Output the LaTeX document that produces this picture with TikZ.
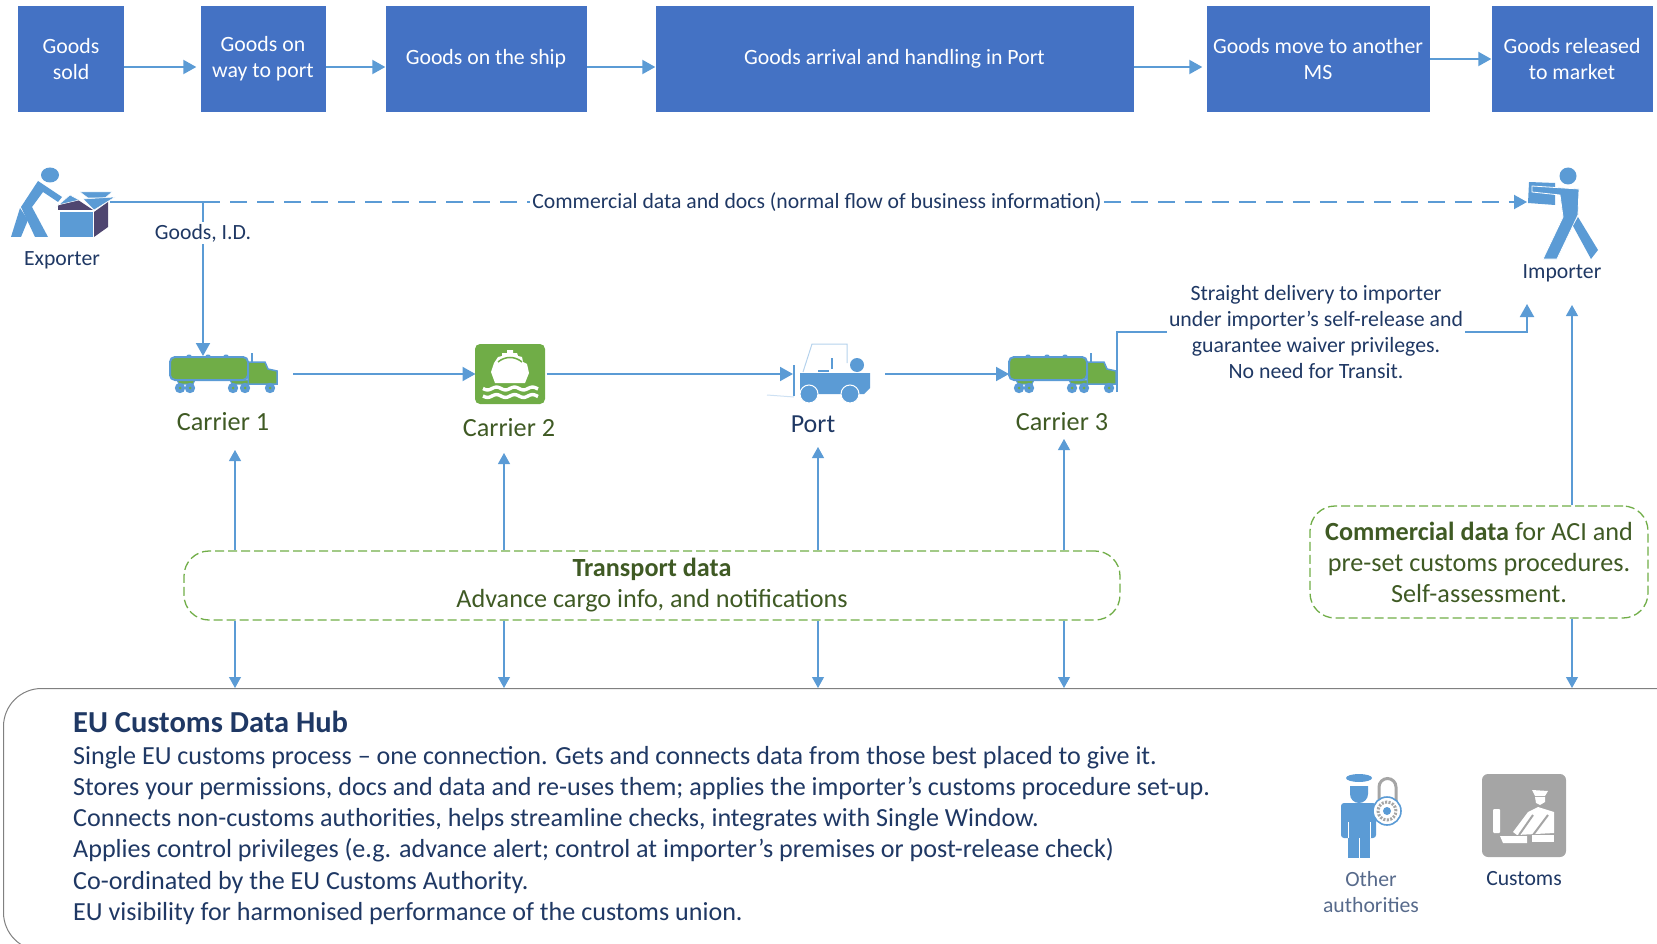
\documentclass[tikz,border=0pt]{standalone}
\usepackage{fontspec}
\setmainfont{Carlito}
\usetikzlibrary{arrows.meta,calc,positioning}
\definecolor{flowblue}{HTML}{5B9BD5}
\definecolor{stepblue}{HTML}{4472C4}
\definecolor{navytext}{HTML}{1F3864}
\definecolor{olivetext}{HTML}{3F5A24}
\definecolor{leaf}{HTML}{70AD47}
\definecolor{crate}{HTML}{4F4670}
\definecolor{stone}{HTML}{A5A5A5}
\tikzstyle{stagebox}=[fill=stepblue,text=white,align=center,minimum height=106pt,inner sep=1pt,font=\fontsize{21.8}{26}\selectfont]
\tikzstyle{flow}=[draw=flowblue,line width=2pt,-{Triangle[length=13pt,width=14pt]}]
\tikzstyle{thinflow}=[draw=flowblue,line width=1.1pt,-{Triangle[length=11pt,width=12pt]}]
\tikzstyle{navylabel}=[text=navytext,align=center,inner sep=2pt,font=\fontsize{21.7}{25.7}\selectfont]
\tikzstyle{olivelabel}=[text=olivetext,align=center,inner sep=2pt,font=\fontsize{26.2}{31}\selectfont]
\tikzstyle{databox}=[draw=leaf,dashed,dash pattern=on 9pt off 4pt,line width=1.3pt,rounded corners=25pt,text=olivetext,align=center,inner sep=2pt,font=\fontsize{26.2}{31}\selectfont]
\tikzstyle{iconbox}=[inner sep=0pt,outer sep=0pt]
\newcommand{\drawflows}[2][flow]{
	\foreach \a/\b in {#2}{
		\draw[#1] (\a) -- (\b);
	}
}
\tikzset{tanker/.pic={
	\draw[flowblue,line width=2pt] (28,-21) -- (28,5);
	\draw[flowblue,fill=leaf,line width=1.5pt] (24,-12) -- (41,-12) -- (44,-5) -- (53,-3) -- (53,10) -- (24,10) -- cycle;
	\draw[flowblue,fill=leaf,line width=1pt] (-47,6) -- (-29,6) -- (-31,10) -- (-45,10) -- cycle;
	\draw[flowblue,fill=leaf,line width=1pt] (6,6) -- (24,6) -- (24,10) -- (8,10) -- cycle;
	\foreach \w in {-44,-34,9,21,46}{
		\fill[flowblue] (\w,14) circle (5.2pt);
		\fill[leaf] (\w,14) circle (1.5pt);
	}
	\foreach \w in {-35,-16,2}{
		\fill[flowblue] (\w,-18) ellipse (2.5pt and 1.5pt);
	}
	\draw[flowblue,fill=leaf,line width=2pt,rounded corners=5pt] (-54,-17) rectangle (24,6);
}}
\begin{document}
\begin{tikzpicture}[x=1pt,y=-1pt]
	\path[use as bounding box,clip] (0,0) rectangle (1657,944);
	\node[stagebox,minimum width=106pt] (sold) at (71,59) {Goods\\sold};
	\node[stagebox,minimum width=125pt] (wayport) at (263,59) {Goods on\\way to port};
	\node[stagebox,minimum width=201pt] (ship) at (486,59) {Goods on the ship};
	\node[stagebox,minimum width=478pt] (arrival) at (894.5,59) {Goods arrival and handling in Port};
	\node[stagebox,minimum width=223pt] (move) at (1318,59) {Goods move to another\\MS};
	\node[stagebox,minimum width=161pt] (released) at (1572,59) {Goods released\\to market};
	\drawflows[flow,shorten >=4pt,transform canvas={yshift=-8pt}]{sold.east/wayport.west,arrival.east/move.west}
	\drawflows[flow,transform canvas={yshift=-8pt}]{wayport.east/ship.west,ship.east/arrival.west}
	\drawflows{move.east/released.west}

	\coordinate (goodsout) at (110,202);
	\coordinate (goodsturn) at (203,202);
	\coordinate (importerin) at (1527,202);
	\coordinate (deliveryin) at (1527,304);
	\coordinate (upA) at (235,450);
	\coordinate (upB) at (504,453);
	\coordinate (upC) at (818,447);
	\coordinate (upD) at (1064,439);
	\coordinate (upE) at (1572,305);

	\node[iconbox,minimum width=108pt,minimum height=36pt] (carrierA) at (224,374) {};
	\node[iconbox,minimum width=71pt,minimum height=61pt] (carrierB) at (511,374) {};
	\node[iconbox,minimum width=77pt,minimum height=60pt] (port) at (831.5,374) {};
	\node[iconbox,minimum width=108pt,minimum height=36pt] (carrierC) at (1063,374) {};

	\node[navylabel] (exporter) at (62,260) {Exporter};
	\node[navylabel] (importer) at (1562,273) {Importer};
	\node[olivelabel] (labelA) at (223,422) {Carrier 1};
	\node[olivelabel] (labelB) at (509,428) {Carrier 2};
	\node[navylabel,font=\fontsize{26}{31}\selectfont] (labelC) at (813,424.5) {Port};
	\node[olivelabel] (labelD) at (1062,422) {Carrier 3};

	\draw[flowblue,line width=2pt] (goodsout) -- (goodsturn);
	\draw[flow] (goodsturn) -- (goodsturn |- carrierA.north);
	\node[navylabel,fill=white] (goodsid) at (203,233) {Goods, I.D.};
	\node[navylabel] (commercial) at (817,202) {Commercial data and docs (normal flow of business information)};
	\draw[draw=flowblue,line width=2pt,dash pattern=on 17pt off 10pt] (goodsturn) -- (commercial.west);
	\draw[flow,dash pattern=on 17pt off 10pt] (commercial.east) -- (importerin);

	\draw[flow,shorten <=15pt] (carrierA.east) -- (carrierB.west);
	\draw[flow] (carrierB.east) -- (port.west);
	\draw[flow,shorten <=15pt] (port.east) -- (carrierC.west);
	\node[navylabel,font=\fontsize{21.8}{25.7}\selectfont] (delivery) at (1316,332) {Straight delivery to importer\\under importer’s self-release and\\guarantee waiver privileges.\\No need for Transit.};
	\draw[flowblue,line width=2pt] (carrierC.south east) |- (delivery.west);
	\draw[flow] (delivery.east) -| (deliveryin);

	\node[databox,minimum width=936pt,minimum height=69pt] (transport) at (652,585.5) {\textbf{Transport data}\\Advance cargo info, and notifications};
	\node[databox,minimum width=338pt,minimum height=112pt] (aci) at (1479,562) {\textbf{Commercial data} for ACI and\\pre-set customs procedures.\\Self-assessment.};
	\node[draw=black!50,line width=1pt,rounded corners=38pt,minimum width=1760pt,minimum height=262pt,anchor=north west,inner sep=0pt] (hub) at (3,688) {};

	\foreach \u in {upA,upB,upC,upD}{
		\draw[thinflow] (\u |- transport.north) -- (\u);
		\draw[thinflow] (\u |- transport.south) -- (\u |- hub.north);
	}
	\draw[thinflow] (upE |- aci.north) -- (upE);
	\draw[thinflow] (upE |- aci.south) -- (upE |- hub.north);

	\node[text=navytext,anchor=west,inner sep=0pt,font=\bfseries\fontsize{30.5}{36}\selectfont] (hubtitle) at (73,722) {EU Customs Data Hub};
	\node[text=navytext,anchor=north west,align=left,inner sep=0pt,font=\fontsize{26.1}{31.2}\selectfont] (hubtext) at (73,746) {Single EU customs process – one connection. Gets and connects data from those best placed to give it.\\Stores your permissions, docs and data and re-uses them; applies the importer’s customs procedure set-up.\\Connects non-customs authorities, helps streamline checks, integrates with Single Window.\\Applies control privileges (e.g. advance alert; control at importer’s premises or post-release check)\\Co-ordinated by the EU Customs Authority.\\EU visibility for harmonised performance of the customs union.};
	\node[navylabel,text=navytext!75] (others) at (1371,892) {Other\\authorities};
	\node[navylabel] (customs) at (1524,879) {Customs};

	\pic at (carrierA) {tanker};
	\pic at (carrierC) {tanker};

	\fill[flowblue] (50,175) ellipse (9pt and 7.5pt);
	\fill[flowblue] (38,181) -- (62,197) -- (58,202) -- (43,192) -- (32,207) -- (48,237) -- (35,237) -- (21,207) -- cycle;
	\fill[flowblue] (20,208) -- (28,220) -- (21,237) -- (11,237) -- cycle;
	\fill[crate] (58,205) -- (75,198) -- (93,210) -- (58,210) -- cycle;
	\fill[flowblue] (60,212) rectangle (93,237);
	\fill[crate] (94,212) -- (108,202) -- (108,227) -- (94,237) -- cycle;
	\draw[white,line width=0.5pt,fill=flowblue] (80,192) -- (112,192) -- (105,198) -- (88,198) -- cycle;
	\draw[white,line width=0.5pt,fill=flowblue] (55,208) -- (70,195) -- (79,200) -- (58,205) -- cycle;
	\draw[white,line width=0.5pt,fill=flowblue] (83,199) -- (115,197) -- (94,210) -- cycle;

	\fill[flowblue] (1568,176) circle (8.5pt);
	\fill[flowblue] (1529,182) -- (1555,183) -- (1555,205) -- (1528,203) -- cycle;
	\draw[white,line width=0.8pt,fill=flowblue] (1532,186) -- (1579,189) -- (1578,215) -- (1557,259) -- (1543,259) -- (1563,217) -- (1560,195) -- (1532,192) -- cycle;
	\fill[flowblue] (1578,217) -- (1598,250) -- (1591,259) -- (1573,226) -- cycle;

	\fill[leaf,rounded corners=5pt] (475,344) rectangle (545,404);
	\fill[white] (507,350) -- (513,350) -- (513,353) -- (517,353) -- (518,356) -- (522,357) -- (523,362) -- (527,364) -- (529,373) -- (525,383) -- (495,383) -- (491,372) -- (494,363) -- (498,357) -- (502,356) -- (502,353) -- (507,353) -- cycle;
	\draw[leaf,line width=1.5pt] (498,362) .. controls (505,356) and (515,356) .. (522,362);
	\draw[white,line width=3.4pt] plot[domain=0:55,samples=50] ({483+\x},{388.5+1.4*sin(\x*20)});
	\draw[white,line width=3.4pt] plot[domain=0:55,samples=50] ({483+\x},{396+1.4*sin(\x*20)});

	\draw[flowblue!30,line width=1pt] (767,395) -- (794,397);
	\draw[flowblue,line width=1.3pt] (794,365) -- (794,396);
	\draw[flowblue!45,line width=1pt] (803,372) -- (812,344) -- (847,344) -- (847,363);
	\draw[flowblue,line width=1.2pt] (818,371) -- (829,371) (832,358) -- (832,369);
	\fill[flowblue] (857,365) circle (7pt);
	\fill[flowblue] (800,373) -- (870,373) -- (870,388) -- (864,394) -- (800,394) -- cycle;
	\foreach \w in {809,850}{
		\draw[white,line width=1pt,fill=flowblue] (\w,394) circle (9pt);
	}

	\fill[flowblue] (1359,778) ellipse (13pt and 4pt);
	\fill[flowblue] (1350,786) -- (1350,794) arc (180:360:9pt) -- (1368,786) -- cycle;
	\fill[flowblue,rounded corners=3pt] (1341,838) -- (1341,803) -- (1376,803) -- (1376,838) -- cycle;
	\fill[flowblue] (1348,838) rectangle (1370,858);
	\draw[white,line width=1pt] (1348,822) -- (1348,838) (1370,822) -- (1370,838) (1359,838) -- (1359,858);
	\draw[stone,line width=3pt] (1379,805) -- (1379,787) arc (180:0:8.5pt) -- (1396,805);
	\draw[flowblue,fill=white,line width=1.6pt] (1387,811) circle (14pt);
	\draw[stone,line width=3pt,dash pattern=on 2pt off 1.5pt] (1387,811) circle (9pt);
	\fill[flowblue] (1387,811) circle (4pt);

	\fill[stone,rounded corners=6pt] (1482,774) rectangle (1566,857);
	\fill[white] (1532,790) -- (1548,791) -- (1545,796) -- (1535,796) -- cycle;
	\fill[white] (1535,797) -- (1545,797) -- (1545,802) -- (1540,805) -- (1536,803) -- cycle;
	\fill[white] (1513,832) -- (1528,812) -- (1538,807) -- (1554,812) -- (1554,833) -- (1517,835) -- cycle;
	\draw[stone,line width=2pt] (1519,835) -- (1533,815) (1533,835) -- (1548,815);
	\fill[white,rounded corners=1pt] (1493,809) rectangle (1500,833);
	\fill[white] (1500,836) -- (1527,836) -- (1527,843) -- (1503,843) -- cycle;
	\fill[white] (1532,835) rectangle (1554,842);
\end{tikzpicture}
\end{document}
